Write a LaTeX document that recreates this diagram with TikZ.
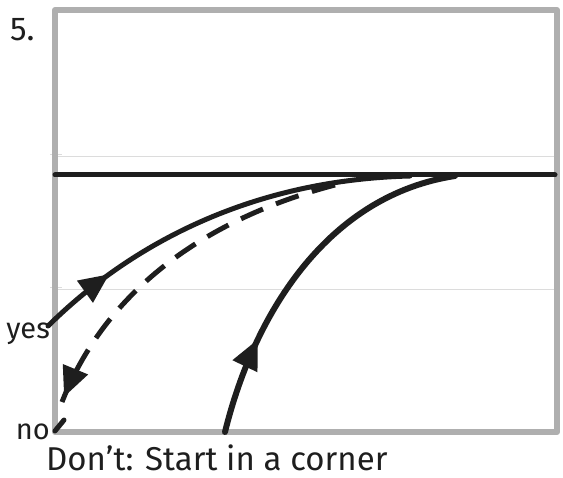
\documentclass[tikz,border=0pt]{standalone}
\usepackage{fontspec}
\setmainfont{Fira Sans}
\usetikzlibrary{arrows.meta,decorations.markings}
\definecolor{framegrey}{RGB}{175,175,175}
\definecolor{faintgrey}{RGB}{220,220,220}
\definecolor{ink}{RGB}{30,30,30}
\tikzset{
  frameline/.style={draw=framegrey, line width=6pt, line join=round},
  guide/.style={draw=faintgrey, line width=1pt},
  inkline/.style={draw=ink, line width=5pt, line cap=round},
  midarrow/.style={postaction={decorate}, decoration={markings,
     mark=at position #1 with {\arrow[ink]{Triangle[length=30pt,width=26pt]}}}},
  hand/.style={font=\fontsize{33}{36}\selectfont, text=ink, inner sep=0pt},
  handsmall/.style={hand, font=\fontsize{29}{32}\selectfont},
}
\begin{document}
\begin{tikzpicture}[x=1pt,y=-1pt]
\useasboundingbox (0,0) rectangle (563,478);
% faint guide lines
\draw[guide] (55,157) -- (557,157);
\draw[guide] (55,290) -- (557,290);
\draw[guide] (50,155) -- (62,155);
\draw[guide] (50,288) -- (62,288);
% frame
\draw[frameline] (55,10) rectangle (557,432);
% coordinates
\coordinate (L) at (55,175);
\coordinate (R) at (555,175);
\coordinate (yesP) at (48,326);
\coordinate (m1) at (410,176);
\coordinate (m2) at (455,176);
\coordinate (d1) at (335,185);
\coordinate (noP) at (62,402);
\coordinate (n1) at (64,420);
\coordinate (n2) at (55,431);
\coordinate (bot) at (225,432);
% main line
\draw[inkline] (L) -- (R);
% yes curve
\draw[inkline, midarrow=0.2] (yesP) .. controls (130,245) and (250,180) .. (m1);
% dashed curve
\draw[inkline, dash pattern=on 24pt off 14pt, line cap=butt,
      postaction={decorate}, decoration={markings,
      mark=at position 0.985 with {\arrow[ink]{Triangle[length=30pt,width=26pt]}}}]
      (d1) .. controls (220,215) and (110,280) .. (noP);
\draw[inkline] (n1) -- (n2);
% bottom curve
\draw[inkline, line width=6pt, midarrow={0.27}] (bot) .. controls (255,310) and (330,195) .. (m2);
% labels
\node[hand, anchor=west] (five) at (10,30) {5.};
\node[handsmall, anchor=east] (yes) at (50,334) {yes};
\node[handsmall, anchor=east] (no) at (50,432) {no};
\node[hand, anchor=west] (cap) at (46,458) {Don't: Start in a corner};
\end{tikzpicture}
\end{document}
